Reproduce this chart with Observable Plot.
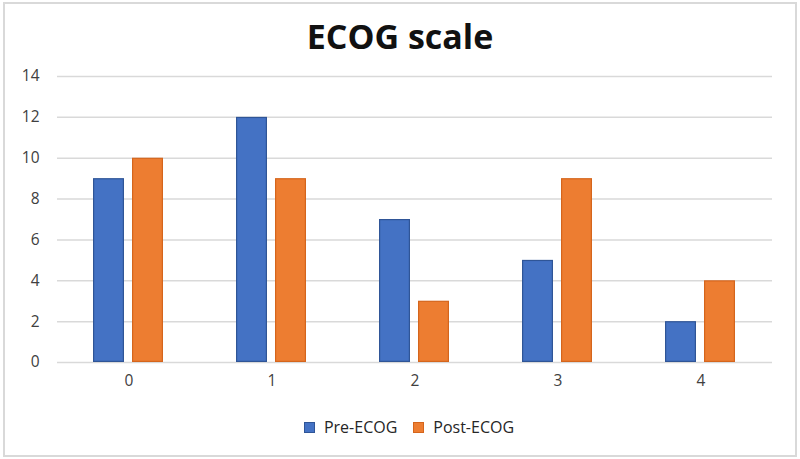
<!DOCTYPE html>
<html>
<head>
<meta charset="utf-8">
<script src="https://cdn.jsdelivr.net/npm/d3@7"></script>
<script src="https://cdn.jsdelivr.net/npm/@observablehq/plot@0.6"></script>
<style>
  html, body { margin: 0; padding: 0; background: #fff; }
  #wrap { position: relative; width: 800px; height: 459px; overflow: hidden; font-family: "Open Sans", sans-serif; }
  #frame { position: absolute; left: 3px; top: 2px; width: 790px; height: 451px; border: 2px solid #d9d9d9; }
  #title { position: absolute; left: 0; width: 800px; top: 13px; text-align: center; font-size: 34px; font-weight: 700; color: #111; }
  #chart { position: absolute; left: 0; top: 0; }
  #legend { position: absolute; left: 9px; width: 800px; top: 416px; display: flex; justify-content: center; gap: 16px; font-size: 16px; color: #262626; }
  .item { display: flex; align-items: center; gap: 9px; }
  .sw { width: 9px; height: 9px; }
</style>
</head>
<body>
<div id="wrap">
  <div id="frame"></div>
  <div id="title">ECOG scale</div>
  <div id="chart"></div>
  <div id="legend"></div>
</div>
<script>
const categories = ["0", "1", "2", "3", "4"];
const series = ["Pre-ECOG", "Post-ECOG"];
const preValues = [9, 12, 7, 5, 2];
const postValues = [10, 9, 3, 9, 4];
const yTicks = [0, 2, 4, 6, 8, 10, 12, 14];
const fills = ["#4472c4", "#ed7d31"];
const strokes = ["#2f5597", "#d5651c"];

const data = [];
categories.forEach((c, i) => {
  data.push({cat: c, s: series[0], v: preValues[i]});
  data.push({cat: c, s: series[1], v: postValues[i]});
});

const chart = Plot.plot({
  width: 800,
  height: 400,
  marginLeft: 55,
  marginRight: 27,
  marginTop: 76,
  marginBottom: 38,
  style: {fontFamily: "Open Sans, sans-serif", fontSize: "15.5px", color: "#404040", background: "transparent"},
  fx: {domain: categories, padding: 0, axis: "bottom", label: null, tickSize: 0, tickPadding: 12},
  x: {domain: series, axis: null, paddingInner: 0.2, paddingOuter: 0.9},
  y: {domain: [0, 14], ticks: yTicks, label: null, tickSize: 0, tickPadding: 18},
  color: {domain: series, range: fills},
  marks: [
    Plot.ruleY(yTicks, {stroke: "#d9d9d9", strokeWidth: 1.5}),
    Plot.barY(data, {fx: "cat", x: "s", y: "v", fill: "s",
      stroke: d => d.s === series[0] ? strokes[0] : strokes[1], strokeWidth: 1.2, inset: 0.6})
  ]
});
document.getElementById("chart").appendChild(chart);

const legend = document.getElementById("legend");
series.forEach((s, i) => {
  const it = document.createElement("div");
  it.className = "item";
  const sw = document.createElement("div");
  sw.className = "sw";
  sw.style.background = fills[i];
  sw.style.border = "0.5px solid " + strokes[i];
  const t = document.createElement("span");
  t.textContent = s;
  it.appendChild(sw); it.appendChild(t);
  legend.appendChild(it);
});
</script>
</body>
</html>
